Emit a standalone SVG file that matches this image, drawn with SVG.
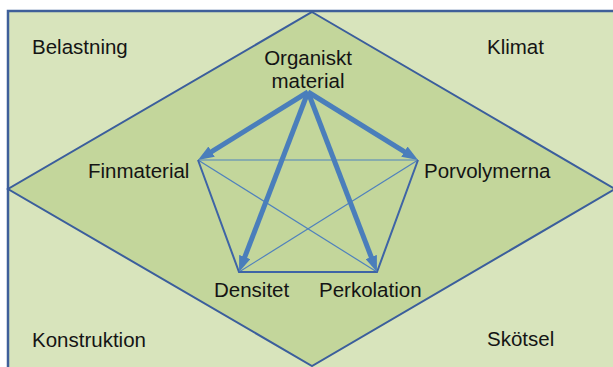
<svg xmlns="http://www.w3.org/2000/svg" width="613" height="367" viewBox="0 0 613 367">
  <style>
    .lbl { font-family: "Liberation Sans", Arial, sans-serif; font-size: 20.5px; fill: #141414; }
    .mid { text-anchor: middle; }
    .side { fill: none; stroke: #3e64a6; stroke-width: 2; }
    .thin { fill: none; stroke: #4f81bd; stroke-width: 1.2; }
    .arrow { fill: none; stroke: #4a7ebb; stroke-width: 5; marker-end: url(#head); }
  </style>
  <defs>
    <marker id="head" markerUnits="userSpaceOnUse" markerWidth="16" markerHeight="12" viewBox="0 0 16 12" refX="8" refY="6" orient="auto">
      <path d="M0,0 L16,6 L0,12 z" fill="#4a7ebb"/>
    </marker>
  </defs>

  <!-- background frame and central diamond -->
  <g id="frame">
    <rect x="8" y="11" width="620" height="370" fill="#d8e4bc" stroke="#3f5f99" stroke-width="2.5"/>
    <polygon points="312,12 615,189 312,366 8,189" fill="#c3d69b" stroke="#3b5e9c" stroke-width="2"/>
  </g>

  <!-- corner factors -->
  <g id="belastning"><text class="lbl" x="32" y="54">Belastning</text></g>
  <g id="klimat"><text class="lbl" x="487" y="54">Klimat</text></g>
  <g id="konstruktion"><text class="lbl" x="32" y="347">Konstruktion</text></g>
  <g id="skotsel"><text class="lbl" x="487" y="346">Skötsel</text></g>

  <!-- connectors between soil properties -->
  <g id="connectors">
    <line class="thin" x1="198" y1="160" x2="418" y2="160"/>
    <line class="thin" x1="198" y1="160" x2="377" y2="272"/>
    <line class="thin" x1="418" y1="160" x2="239" y2="272"/>
    <polyline class="side" points="198,160 239,272 377,272 418,160"/>
    <line class="arrow" x1="308" y1="92" x2="204.8" y2="155.8"/>
    <line class="arrow" x1="308" y1="92" x2="411.2" y2="155.8"/>
    <line class="arrow" x1="308" y1="92" x2="241.9" y2="264.5"/>
    <line class="arrow" x1="308" y1="92" x2="374.1" y2="264.5"/>
  </g>

  <!-- soil property nodes -->
  <g id="organiskt">
    <text class="lbl mid" x="308" y="65">Organiskt</text>
    <text class="lbl mid" x="308" y="88">material</text>
  </g>
  <g id="finmaterial"><text class="lbl" x="88" y="178">Finmaterial</text></g>
  <g id="porvolymerna"><text class="lbl" x="424" y="178">Porvolymerna</text></g>
  <g id="densitet"><text class="lbl" x="214" y="297">Densitet</text></g>
  <g id="perkolation"><text class="lbl" x="319" y="297">Perkolation</text></g>
</svg>
